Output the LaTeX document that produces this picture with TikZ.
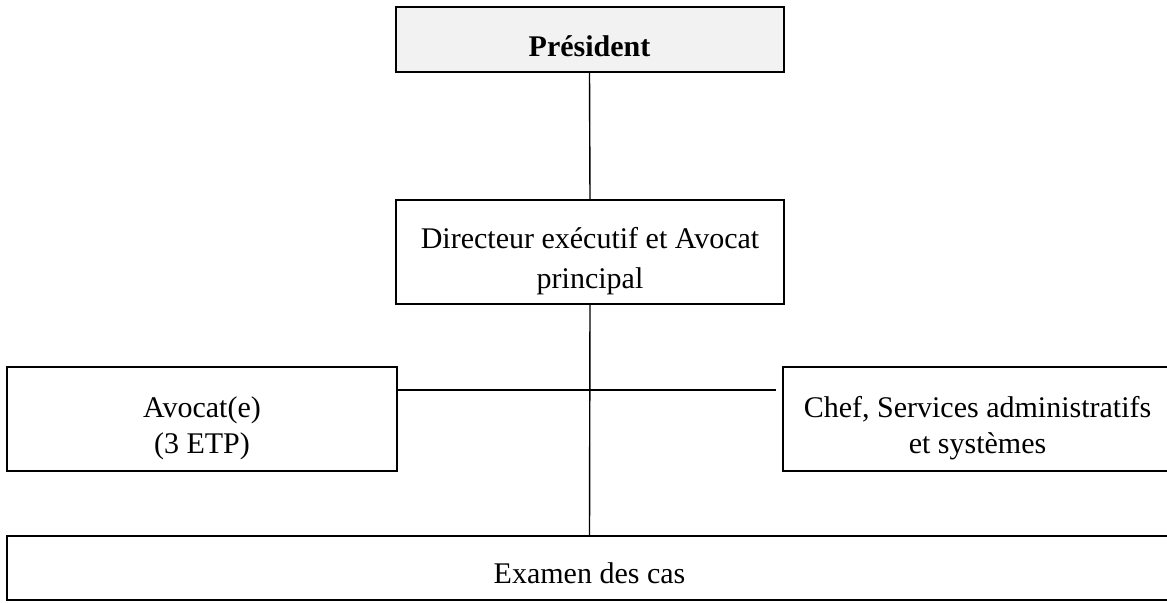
\documentclass[tikz,border=0pt]{standalone}
\usepackage{fontspec}
\setmainfont{Liberation Serif}
\usepackage{tikz}
\usetikzlibrary{calc}
\definecolor{presgray}{HTML}{F2F2F2}
\tikzset{
  orgbox/.style={draw=black,line width=1pt,inner sep=0pt},
  orgtext/.style={align=center,inner sep=0pt,font=\fontsize{15}{18}\selectfont},
  orgline/.style={line width=0.7pt},
}

\begin{document}
\begin{tikzpicture}[x=0.5pt,y=-0.5pt]
    \useasboundingbox (0,0) rectangle (1167,603);
    % boxes
    \node [orgbox,fill=presgray,minimum width=194pt,minimum height=32.5pt,
      label={[orgtext,yshift=-3.5pt,name=prestext]center:\textbf{Président}}] (pres) at (589.5,39.5) {};
    \node [orgbox,minimum width=194pt,minimum height=52pt,
      label={[orgtext,font=\fontsize{15}{20}\selectfont,yshift=-4.5pt,name=dirtext]center:Directeur exécutif et Avocat\\principal}] (dir) at (590,252) {};
    \node [orgbox,minimum width=195pt,minimum height=52pt,
      label={[orgtext,yshift=-4.5pt,name=avocattext]center:Avocat(e)\\(3 ETP)}] (avocat) at (202,419) {};
    \node [orgbox,minimum width=194.5pt,minimum height=52pt,
      label={[orgtext,yshift=-4.5pt,name=cheftext]center:Chef, Services administratifs\\et systèmes}] (chef) at (977.5,419) {};
    \node [orgbox,minimum width=582.5pt,minimum height=32pt,
      label={[orgtext,yshift=-2.5pt,name=examentext]center:Examen des cas}] (examen) at (589.5,568) {};
    % connectors
    \coordinate (hline) at (590,390);
    \draw [orgline] (pres.south) -- (dir.north);
    \draw [orgline] (dir.south) -- (examen.north);
    \draw [orgline] (avocat.east |- hline) -- ([xshift=-3pt]chef.west |- hline);
\end{tikzpicture}
\end{document}
